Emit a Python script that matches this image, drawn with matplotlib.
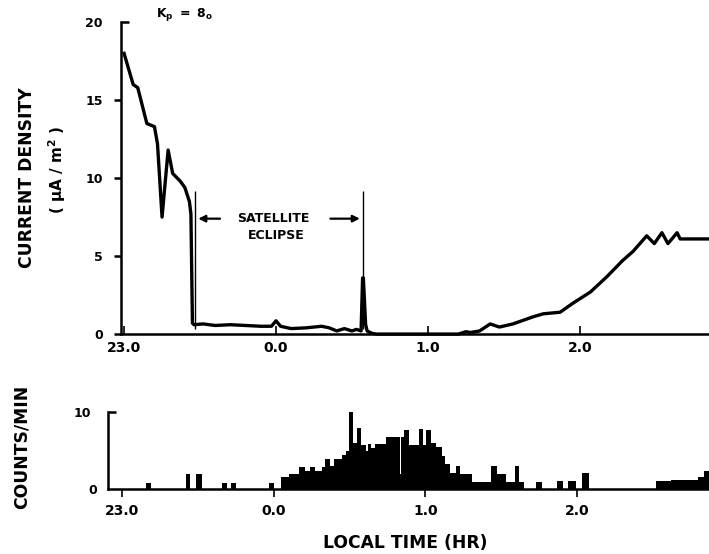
import matplotlib
matplotlib.use("Agg")
import matplotlib.pyplot as plt

# time axis: hours after 23.0 LT
tick_pos = [0, 1, 2, 3]
tick_lab = ["23.0", "0.0", "1.0", "2.0"]

# current density (uA/m^2)
cd_t = [0.0, 0.06, 0.09, 0.15, 0.20, 0.22, 0.25, 0.29, 0.32, 0.37,
        0.40, 0.43, 0.44, 0.45, 0.46, 0.52, 0.60, 0.70, 0.80, 0.90,
        0.97, 1.00, 1.03, 1.10, 1.20, 1.30, 1.35, 1.40, 1.45, 1.50,
        1.53, 1.56, 1.57, 1.575, 1.59, 1.60, 1.63, 1.66, 2.20, 2.25,
        2.28, 2.34, 2.41, 2.47, 2.56, 2.69, 2.76, 2.87, 2.95, 3.07,
        3.18, 3.28, 3.35, 3.44, 3.49, 3.54, 3.58, 3.64, 3.66, 3.75, 3.86]
cd_v = [18.0, 16.0, 15.8, 13.5, 13.3, 12.2, 7.5, 11.8, 10.3, 9.8,
        9.4, 8.5, 7.7, 0.7, 0.6, 0.65, 0.55, 0.6, 0.55, 0.5,
        0.5, 0.85, 0.5, 0.35, 0.4, 0.5, 0.4, 0.2, 0.35, 0.2,
        0.3, 0.2, 3.6, 3.6, 0.6, 0.2, 0.05, 0, 0, 0.15,
        0.1, 0.2, 0.65, 0.45, 0.65, 1.1, 1.3, 1.4, 1.95, 2.7,
        3.7, 4.7, 5.3, 6.3, 5.8, 6.5, 5.8, 6.5, 6.1, 6.1, 6.1]

# eclipse entry / exit
ecl_in, ecl_out = 0.47, 1.57

# counts/min histogram: bin start times, values, last edge
cnt_start = [-0.09, 0.16, 0.19, 0.42, 0.45, 0.49, 0.53, 0.66, 0.69, 0.72,
             0.75, 0.97, 1.00, 1.05, 1.10, 1.17, 1.21, 1.24, 1.27, 1.32,
             1.34, 1.37, 1.40, 1.45, 1.48, 1.50, 1.525, 1.55, 1.575, 1.61,
             1.625, 1.64, 1.67, 1.74, 1.835, 1.842, 1.86, 1.89, 1.955, 1.985,
             2.005, 2.04, 2.07, 2.11, 2.13, 2.16, 2.20, 2.23, 2.31, 2.43,
             2.47, 2.53, 2.59, 2.62, 2.65, 2.73, 2.77, 2.87, 2.91, 2.94,
             2.99, 3.03, 3.08, 3.52, 3.62, 3.80, 3.84]
cnt_vals = [0, 0.8, 0, 2.0, 0, 2.0, 0, 0.8, 0, 0.8,
            0, 0.8, 0, 1.5, 2.0, 2.9, 2.3, 2.9, 2.4, 2.8,
            3.9, 3.0, 3.9, 4.4, 4.9, 10.0, 6.0, 7.9, 5.7, 5.0,
            5.8, 5.3, 5.9, 6.8, 2.0, 6.8, 7.6, 5.7, 7.8, 5.7,
            7.6, 6.0, 5.4, 4.3, 3.3, 2.1, 3.0, 2.0, 0.9, 3.0,
            2.0, 0.9, 3.0, 0.9, 0, 0.9, 0, 1.0, 0, 1.0,
            0, 2.1, 0, 1.0, 1.2, 1.6, 2.3]
cnt_end = 3.90

plt.rcParams["font.family"] = "DejaVu Sans"
plt.rcParams["font.weight"] = "bold"
LW = 1.8

fig = plt.figure(figsize=(7.09, 5.54), dpi=100)
ax1 = fig.add_axes([0.1707, 0.397, 0.8293, 0.563])
ax2 = fig.add_axes([0.1523, 0.1173, 0.8477, 0.139])

for ax in (ax1, ax2):
    ax.spines["top"].set_visible(False)
    ax.spines["right"].set_visible(False)
    for s in ("left", "bottom"):
        ax.spines[s].set_linewidth(LW)
    ax.set_xticks(tick_pos, tick_lab)

# --- top: current density
ax1.plot(cd_t, cd_v, color="black", lw=2.4, solid_joinstyle="round", clip_on=False)
ax1.set_xlim(-0.02, 3.85)
ax1.set_ylim(0, 20)
ax1.set_yticks([0, 5, 10, 15])
ax1.set_yticks([20], ["20"], minor=True)
ax1.tick_params(axis="y", which="major", direction="out", length=5, width=LW, pad=8, labelsize=9)
ax1.tick_params(axis="y", which="minor", direction="in", length=6, width=LW, pad=13, labelsize=9)
ax1.tick_params(axis="x", direction="in", length=6, width=1.2, pad=5, labelsize=10)

ax1.vlines([ecl_in, ecl_out], 0.3, 9.2, color="black", lw=1.0)
ax1.annotate("", xy=(ecl_in, 7.4), xytext=(0.65, 7.4),
             arrowprops=dict(arrowstyle="-|>", color="black", lw=1.6, mutation_scale=10))
ax1.annotate("", xy=(ecl_out, 7.4), xytext=(1.34, 7.4),
             arrowprops=dict(arrowstyle="-|>", color="black", lw=1.6, mutation_scale=10))
ax1.text(0.98, 7.4, "SATELLITE", ha="center", va="center", fontsize=9)
ax1.text(1.0, 6.35, "ECLIPSE", ha="center", va="center", fontsize=9)

fig.text(0.261, 0.973, r"$\mathbf{K_p\ =\ 8_o}$", ha="center", va="center", fontsize=9)
fig.text(0.038, 0.679, "CURRENT DENSITY", rotation=90, ha="center", va="center", fontsize=12.3)
fig.text(0.080, 0.693, "( \u03bcA / m$^\\mathbf{2}$ )", rotation=90, ha="center", va="center", fontsize=11)

# --- bottom: counts/min
ax2.stairs(cnt_vals, cnt_start + [cnt_end], fill=True, color="black", lw=1.2)
ax2.set_xlim(-0.092, 3.87)
ax2.set_ylim(0, 10)
ax2.set_yticks([0])
ax2.set_yticks([10], ["10"], minor=True)
ax2.tick_params(axis="y", which="major", direction="out", length=0, width=LW, pad=8, labelsize=9)
ax2.tick_params(axis="y", which="minor", direction="in", length=6, width=LW, pad=12, labelsize=9)
ax2.tick_params(axis="x", direction="out", length=6, width=1.2, pad=5, labelsize=10)

fig.text(0.030, 0.193, "COUNTS/MIN", rotation=90, ha="center", va="center", fontsize=12.3)
fig.text(0.571, 0.020, "LOCAL TIME (HR)", ha="center", va="center", fontsize=12.3)

fig.savefig("out.png", dpi=100)
